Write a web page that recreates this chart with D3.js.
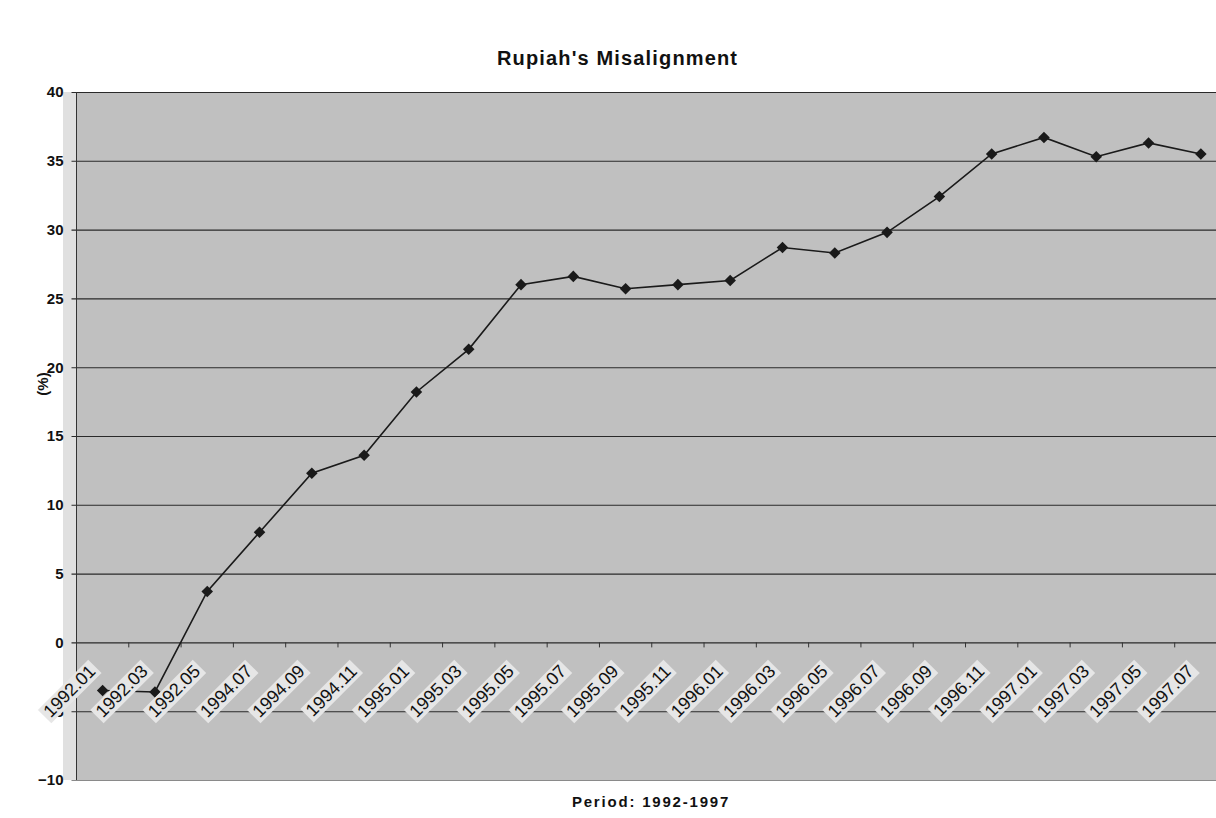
<!DOCTYPE html>
<html>
<head>
<meta charset="utf-8">
<script src="https://cdn.jsdelivr.net/npm/d3@7"></script>
<style>
  html, body { margin: 0; padding: 0; background: #ffffff; }
  svg { display: block; font-family: Arial, "Liberation Sans", sans-serif; }
</style>
</head>
<body>
<svg id="chart" width="1216" height="818"></svg>
<script>
// ---- data ----
const categories = ["1992.01","1992.03","1992.05","1994.07","1994.09","1994.11",
  "1995.01","1995.03","1995.05","1995.07","1995.09","1995.11",
  "1996.01","1996.03","1996.05","1996.07","1996.09","1996.11",
  "1997.01","1997.03","1997.05","1997.07"];
const misalignment = [-3.5,-3.6,3.7,8.0,12.3,13.6,
  18.2,21.3,26.0,26.6,25.7,26.0,
  26.3,28.7,28.3,29.8,32.4,35.5,
  36.7,35.3,36.3,35.5];
const yTicks = [-10,-5,0,5,10,15,20,25,30,35,40];
const titleText = "Rupiah's Misalignment";
const xTitle = "Period: 1992-1997";
const yTitle = "(%)";

// ---- layout ----
const svg = d3.select("#chart");
const pL = 76.5, pR = 1227, pT = 92, pB = 780;

const x = d3.scaleBand().domain(categories).range([pL, pR]).padding(0);
const y = d3.scaleLinear().domain([-10, 40]).range([pB, pT]);
const cx = d => x(d) + x.bandwidth() / 2;

// plot background
svg.append("rect").attr("x", pL).attr("y", pT)
  .attr("width", pR - pL).attr("height", pB - pT)
  .attr("fill", "#c0c0c0");
// lighter strip at left edge of the plot
svg.append("rect").attr("x", 63).attr("y", pT)
  .attr("width", pL - 63).attr("height", pB - pT)
  .attr("fill", "#e0e0e0");

// gridlines + y axis
const yAxis = d3.axisLeft(y).tickValues(yTicks).tickSize(-(pR - pL)).tickPadding(13);
const gy = svg.append("g").attr("transform", `translate(${pL},0)`).call(yAxis);
gy.select(".domain").remove();
gy.selectAll(".tick line").attr("stroke", "#2a2a2a").attr("stroke-width", 1.1)
  .attr("x1", -5);
gy.selectAll(".tick").filter(d => d === -10).select("line").attr("stroke", "#8a8a8a");
gy.selectAll(".tick text").attr("font-size", 15).attr("font-weight", "bold")
  .attr("fill", "#111").attr("font-family", "Arial, 'Liberation Sans', sans-serif");
// y axis line
svg.append("line").attr("x1", pL).attr("x2", pL).attr("y1", pT).attr("y2", pB)
  .attr("stroke", "#333").attr("stroke-width", 1);

// category ticks on the zero line
const gx = svg.append("g").attr("transform", `translate(0,${y(0)})`);
gx.selectAll("line.tk").data(categories.slice(1)).enter().append("line")
  .attr("class", "tk")
  .attr("x1", d => x(d)).attr("x2", d => x(d))
  .attr("y1", 0).attr("y2", 5)
  .attr("stroke", "#333").attr("stroke-width", 1);

// series line
const line = d3.line().x((d, i) => cx(categories[i])).y(d => y(d));
svg.append("path").datum(misalignment).attr("d", line)
  .attr("fill", "none").attr("stroke", "#1a1a1a").attr("stroke-width", 1.6);

// markers (diamonds)
svg.selectAll("path.mk").data(misalignment).enter().append("path")
  .attr("class", "mk")
  .attr("d", d3.symbol().type(d3.symbolDiamond2).size(85))
  .attr("transform", (d, i) => `translate(${cx(categories[i])},${y(d)})`)
  .attr("fill", "#1a1a1a");

// rotated category labels with light background boxes
const lab = svg.append("g");
categories.forEach(c => {
  const g = lab.append("g")
    .attr("transform", `translate(${cx(c) - 6},${y(0) + 30})rotate(-45)`);
  const rect = g.append("rect");
  const t = g.append("text").text(c)
    .attr("text-anchor", "end")
    .attr("font-size", 18)
    .attr("fill", "#111")
    .attr("font-family", "Arial, 'Liberation Sans', sans-serif");
  const bb = t.node().getBBox();
  rect.attr("x", bb.x - 3).attr("y", bb.y + 1)
    .attr("width", bb.width + 6).attr("height", bb.height - 1)
    .attr("fill", "#e6e6e6");
});

// titles
svg.append("text").attr("x", 617).attr("y", 65).attr("text-anchor", "middle")
  .attr("font-size", 20).attr("font-weight", "bold").attr("fill", "#111")
  .attr("textLength", 240).attr("lengthAdjust", "spacing")
  .text(titleText);
svg.append("text").attr("x", 651).attr("y", 807).attr("text-anchor", "middle")
  .attr("font-size", 15).attr("font-weight", "bold").attr("fill", "#111")
  .attr("letter-spacing", 1.8)
  .text(xTitle);
svg.append("text").attr("transform", "translate(48,384)rotate(-90)")
  .attr("text-anchor", "middle")
  .attr("font-size", 15).attr("font-weight", "bold").attr("fill", "#111")
  .text(yTitle);
</script>
</body>
</html>
